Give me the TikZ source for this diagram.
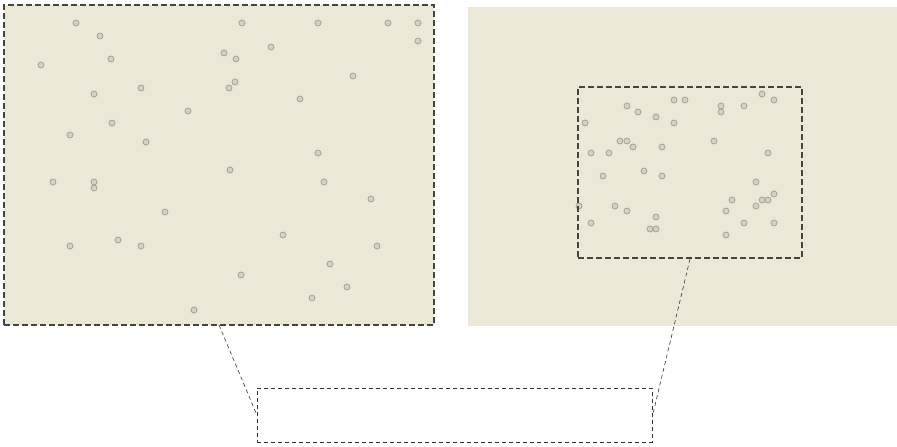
\documentclass[tikz,border=0pt]{standalone}
\usepackage{xcolor}
\usetikzlibrary{positioning}
\definecolor{paper}{HTML}{ECE8D8}
\definecolor{dotfill}{HTML}{D6D2C3}
\definecolor{dotline}{HTML}{A09C90}
\definecolor{frame}{HTML}{45453F}

\begin{document}
\begin{tikzpicture}[
    x=1pt, y=-1pt,
    panel/.style={rectangle, fill=paper, inner sep=0pt, outer sep=0pt, anchor=north west},
    zoomframe/.style={draw=frame, line width=2pt, dash pattern=on 6pt off 3pt},
    thinframe/.style={draw=black!80, line width=0.6pt, dash pattern=on 4pt off 3pt},
    dot/.style={circle, draw=dotline, fill=dotfill, line width=0.7pt, minimum size=6pt, inner sep=0pt},
    link/.style={thinframe}
]
\useasboundingbox (0,0) rectangle (897,447);

% 1. Overview panel & its points
\node[panel, zoomframe, minimum width=430pt, minimum height=320pt] (overview) at (4,5) {};

\foreach \px/\py [count=\i] in {76/23, 100/36, 41/65, 111/59, 94/94, 141/88, 112/123, 70/135, 146/142, 188/111,
    242/23, 224/53, 236/59, 271/47, 235/82, 229/88, 300/99, 318/23, 388/23, 418/23, 418/41, 353/76,
    53/182, 94/182, 94/188, 165/212, 230/170, 318/153, 324/182, 371/199, 70/246, 118/240, 141/246,
    283/235, 241/275, 330/264, 377/246, 347/287, 312/298, 194/310}
    \node[dot] (ov\i) at (\px,\py) {};

% 2. Detail panel & zoom window
\node[panel, minimum width=429pt, minimum height=319pt] (detail) at (468,7) {};

\foreach \px/\py [count=\i] in {762/94, 774/100, 674/100, 685/100, 627/106, 638/112, 721/106, 721/112, 744/106,
    656/117, 585/123, 674/123, 620/141, 627/141, 633/147, 662/147, 714/141, 591/153, 609/153, 768/153,
    644/171, 603/176, 662/176, 756/182, 774/194, 762/200, 768/200, 732/200, 756/206, 579/206, 615/206,
    627/211, 726/211, 656/217, 591/223, 744/223, 774/223, 650/229, 656/229, 726/235}
    \node[dot] (dt\i) at (\px,\py) {};

\node[zoomframe, inner sep=0pt, minimum width=224pt, minimum height=171pt, anchor=north west] (window) at (577,86) {};

% 3. Empty box below
\node[thinframe, inner sep=0pt, minimum width=395pt, minimum height=54pt, anchor=north west] (caption) at (257,388) {};

% Connections
\draw[link] (overview.south) -- (caption.west);
\draw[link] (window.south) -- (caption.east);

\end{tikzpicture}
\end{document}
